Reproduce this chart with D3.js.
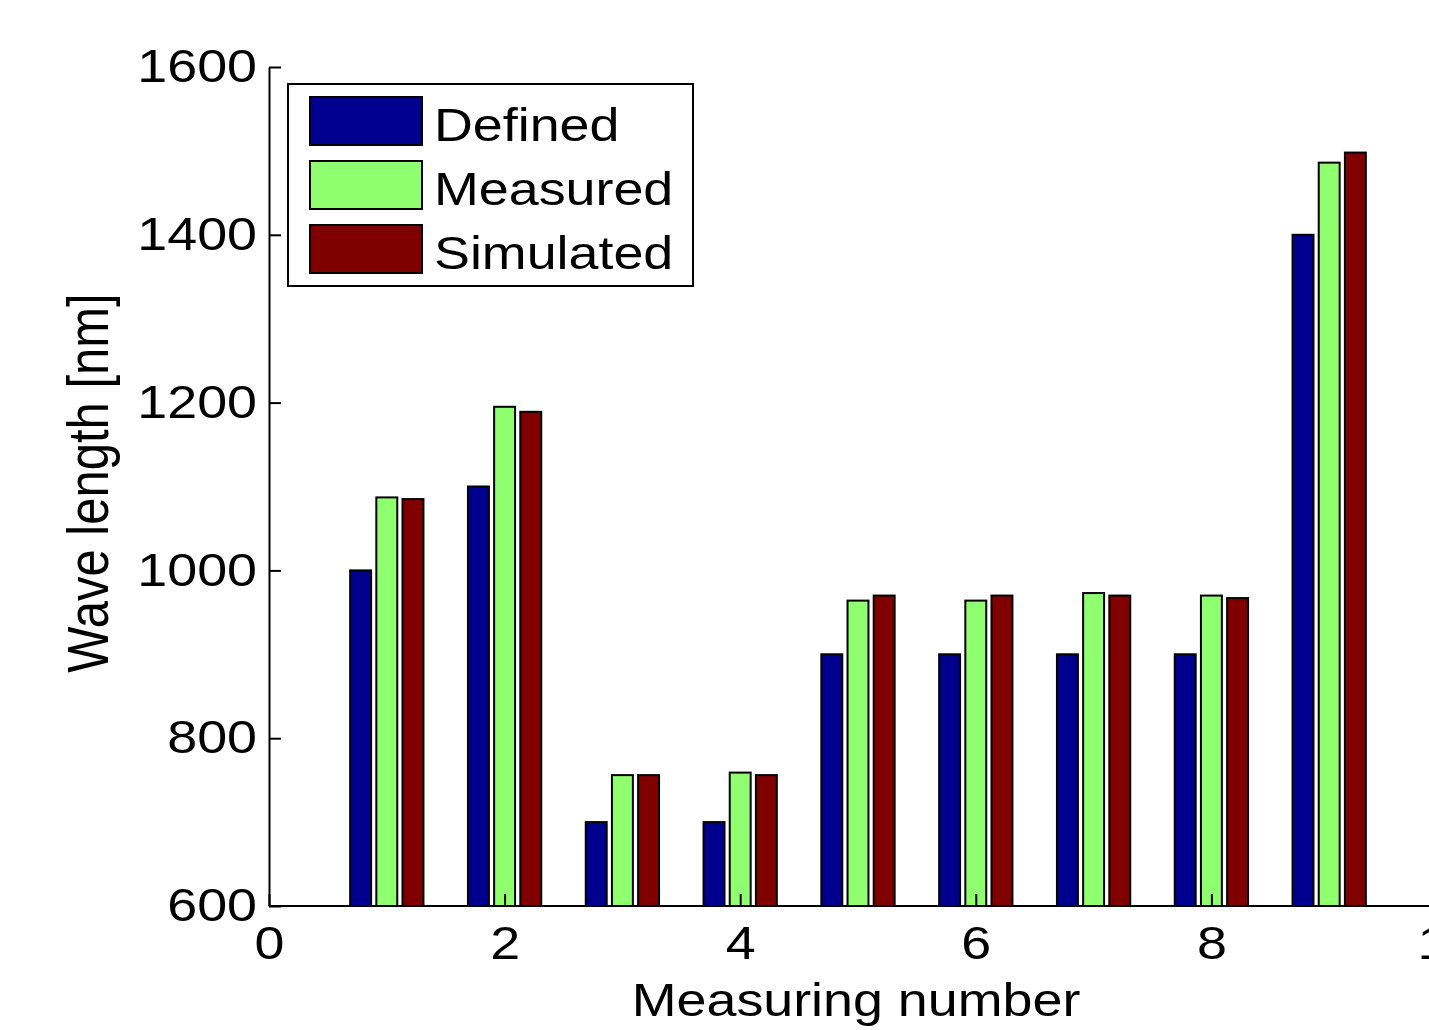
<!DOCTYPE html>
<html>
<head>
<meta charset="utf-8">
<script src="https://cdn.jsdelivr.net/npm/d3@7"></script>
<style>
  body { margin: 0; background: #fff; }
  text { font-family: "Liberation Sans", Arial, sans-serif; fill: #000; }
</style>
</head>
<body>
<svg id="chart"></svg>
<script>
const categories = [1, 2, 3, 4, 5, 6, 7, 8, 9];
const seriesNames = ['Defined', 'Measured', 'Simulated'];
const defined = [1000, 1100, 700, 700, 900, 900, 900, 900, 1400];
const measured = [1087, 1195, 756, 759, 964, 964, 973, 970, 1486];
const simulated = [1085, 1189, 756, 756, 970, 970, 970, 967, 1498];
const xTicks = [0, 2, 4, 6, 8, 10];
const yTicks = [600, 800, 1000, 1200, 1400, 1600];
const colors = ['#00008f', '#8fff6f', '#800000'];

const width = 1429, height = 1030;
const stretch = 1.17; // source figure is a bit wider than tall
const svg = d3.select('#chart').attr('width', width).attr('height', height);

const xScale = d3.scaleLinear().domain([0, 10]).range([269, 1447]);
const yScale = d3.scaleLinear().domain([600, 1600]).range([906, 67]);

// matlab grouped bar geometry
const groupWidth = Math.min(0.8, 3 / 4.5);
const step = groupWidth / 3;
const barWidth = step * 0.8;

const series = [defined, measured, simulated];
const rows = [];
series.forEach((vals, s) => {
  vals.forEach((v, i) => rows.push({ s, x: categories[i], v }));
});

svg.append('g')
  .selectAll('rect')
  .data(rows)
  .enter()
  .append('rect')
  .attr('x', d => xScale(d.x + (d.s - 1) * step - barWidth / 2))
  .attr('y', d => yScale(d.v))
  .attr('width', xScale(barWidth) - xScale(0))
  .attr('height', d => yScale(600) - yScale(d.v))
  .attr('fill', d => colors[d.s])
  .attr('stroke', '#000')
  .attr('stroke-width', 2);

// axes with inward ticks
const xAxis = svg.append('g')
  .attr('transform', `translate(0, ${yScale(600)})`)
  .call(d3.axisBottom(xScale).tickValues(xTicks).tickFormat(d3.format('d'))
    .tickSizeInner(-12).tickSizeOuter(0).tickPadding(20));
xAxis.select('.domain').attr('stroke-width', 2).attr('d', `M${xScale(0)},0H${width}`);
xAxis.selectAll('.tick line').attr('stroke-width', 2);
xAxis.selectAll('.tick text')
  .attr('font-size', 46)
  .attr('font-family', 'Liberation Sans, Arial, sans-serif')
  .attr('transform', `scale(${stretch},1)`);

const yAxis = svg.append('g')
  .attr('transform', `translate(${xScale(0)}, 0)`)
  .call(d3.axisLeft(yScale).tickValues(yTicks).tickFormat(d3.format('d'))
    .tickSizeInner(-12).tickSizeOuter(0).tickPadding(12));
yAxis.select('.domain').attr('stroke-width', 2);
yAxis.selectAll('.tick line').attr('stroke-width', 2);
yAxis.selectAll('.tick text')
  .attr('font-size', 46)
  .attr('font-family', 'Liberation Sans, Arial, sans-serif')
  .attr('x', -12 / stretch)
  .attr('transform', `scale(${stretch},1)`);

// axis titles
svg.append('text')
  .attr('transform', `translate(856, 1016) scale(${stretch},1)`)
  .attr('text-anchor', 'middle')
  .attr('font-size', 46)
  .text('Measuring number');

svg.append('text')
  .attr('transform', `translate(108, 483) rotate(-90) scale(1,${stretch})`)
  .attr('text-anchor', 'middle')
  .attr('font-size', 49)
  .text('Wave length [nm]');

// legend
const legend = svg.append('g').attr('transform', 'translate(288, 84)');
legend.append('rect')
  .attr('width', 405).attr('height', 202)
  .attr('fill', '#fff').attr('stroke', '#000').attr('stroke-width', 2);
seriesNames.forEach((name, i) => {
  const row = legend.append('g').attr('transform', `translate(0, ${13 + i * 64})`);
  row.append('rect')
    .attr('x', 22).attr('y', 0)
    .attr('width', 112).attr('height', 48)
    .attr('fill', colors[i]).attr('stroke', '#000').attr('stroke-width', 2);
  row.append('text')
    .attr('transform', `translate(146, 44) scale(${stretch},1)`)
    .attr('font-size', 46)
    .text(name);
});
</script>
</body>
</html>
